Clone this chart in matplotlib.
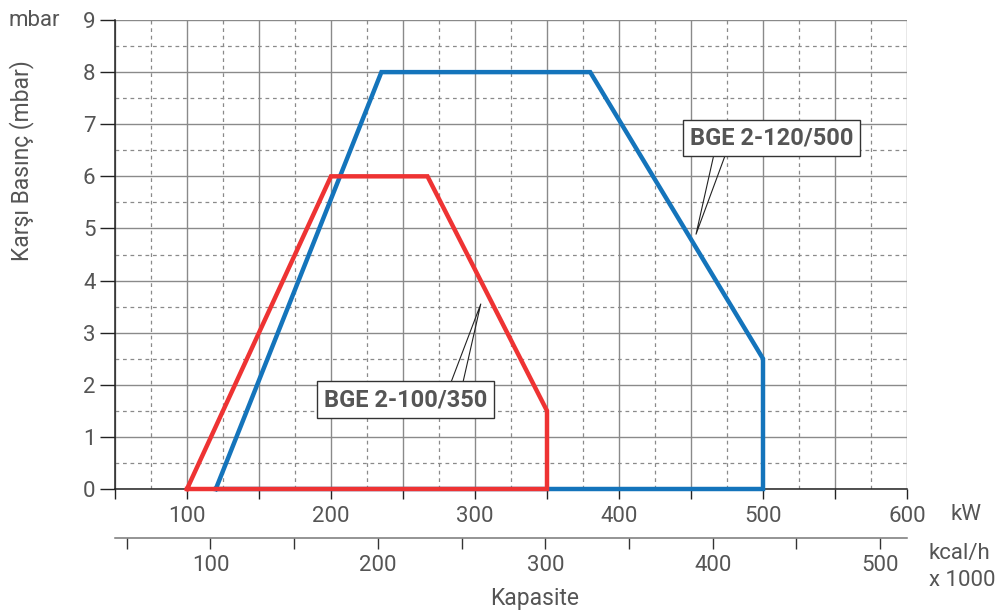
import numpy as np
import matplotlib
matplotlib.use("Agg")
import matplotlib.pyplot as plt
from matplotlib.ticker import MultipleLocator, FuncFormatter

# ── Datos ────────────────────────────────────────────────────────────────
kw_azul = [120, 235, 380, 500, 500, 120]
mbar_azul = [0, 8, 8, 2.5, 0, 0]
kw_roja = [100, 200, 267, 350, 350, 100]
mbar_roja = [0, 6, 6, 1.5, 0, 0]

etiqueta_azul = "BGE 2-120/500"
etiqueta_roja = "BGE 2-100/350"

kw_a_kcal = 0.86   # kcal/h x1000 por kW

gris = "#555555"
rojo = "#EE3333"
azul = "#1474BB"
fs = 16

plt.rcParams['font.family'] = ['Roboto', 'DejaVu Sans']

fig = plt.figure(figsize=(10.06, 6.15), dpi=100)
ax = fig.add_axes([115/1006, 126/615, 792/1006, 469/615])

ax.set_xlim(50, 600)
ax.set_ylim(0, 9)

ax.xaxis.set_major_locator(MultipleLocator(50))
ax.xaxis.set_minor_locator(MultipleLocator(25))
ax.yaxis.set_major_locator(MultipleLocator(1))
ax.yaxis.set_minor_locator(MultipleLocator(0.5))

ax.grid(which='major', color='#8a8a8a', lw=1.0, ls='-')
ax.grid(which='minor', color='#8a8a8a', lw=0.9, ls=(0, (3, 3)))
ax.set_axisbelow(True)

ax.xaxis.set_major_formatter(FuncFormatter(lambda v, p: f"{v:.0f}" if v % 100 == 0 and v > 50 else ""))
ax.tick_params(axis='x', which='major', direction='out', length=7, width=1,
               color='#222222', labelsize=fs, labelcolor=gris, pad=5)
ax.tick_params(axis='y', which='major', direction='out', length=11, width=1,
               color='#222222', labelsize=fs, labelcolor=gris, pad=3)
ax.tick_params(which='minor', length=0)

for lado in ['top', 'right']:
    ax.spines[lado].set_visible(False)
for lado in ['left', 'bottom']:
    ax.spines[lado].set_color('#222222')
    ax.spines[lado].set_linewidth(1.1)

# Curvas
ax.plot(kw_azul, mbar_azul, color=azul, lw=3.2, solid_joinstyle='miter', clip_on=False, zorder=3)
ax.plot(kw_roja, mbar_roja, color=rojo, lw=3.2, solid_joinstyle='miter', clip_on=False, zorder=4)

# Etiquetas con líneas guía
caja = dict(boxstyle='square,pad=0.28', fc='white', ec='#333333', lw=1.0)
ax.text(505.9, 6.735, etiqueta_azul, ha='center', va='center', fontsize=17,
        fontweight='bold', color=gris, bbox=caja, zorder=6)
ax.plot([466, 453.5, 474.1], [6.43, 4.89, 6.43], color='#222222', lw=0.8, zorder=5)

ax.text(251.7, 1.717, etiqueta_roja, ha='center', va='center', fontsize=17,
        fontweight='bold', color=gris, bbox=caja, zorder=6)
ax.plot([283.1, 304, 291.5], [2.03, 3.55, 2.03], color='#222222', lw=0.8, zorder=5)

# Eje secundario kcal/h
sec = ax.secondary_xaxis(-0.1045, functions=(lambda x: x * kw_a_kcal, lambda x: x / kw_a_kcal))
sec.xaxis.set_major_locator(MultipleLocator(50))
sec.xaxis.set_major_formatter(FuncFormatter(lambda v, p: f"{v:.0f}" if v % 100 == 0 else ""))
sec.tick_params(axis='x', direction='out', length=8, width=1, color='#333333',
                labelsize=fs, labelcolor=gris, pad=4)
sec.spines['bottom'].set_color('#777777')
sec.spines['bottom'].set_linewidth(1.1)

# Textos
fig.text(60/1006, 1 - 20/615, "mbar", ha='right', va='center', fontsize=fs, color=gris)
fig.text(22/1006, 1 - 161/615, "Karşı Basınç (mbar)", ha='center', va='center',
         rotation=90, fontsize=16.5, color=gris)
fig.text(951/1006, 1 - 515/615, "kW", ha='left', va='center', fontsize=fs, color=gris)
fig.text(929/1006, 1 - 553/615, "kcal/h", ha='left', va='center', fontsize=fs, color=gris)
fig.text(929/1006, 1 - 580/615, "x 1000", ha='left', va='center', fontsize=fs, color=gris)
fig.text(535/1006, 1 - 598/615, "Kapasite", ha='center', va='center', fontsize=16.5, color=gris)

fig.savefig("out.png", dpi=100)
